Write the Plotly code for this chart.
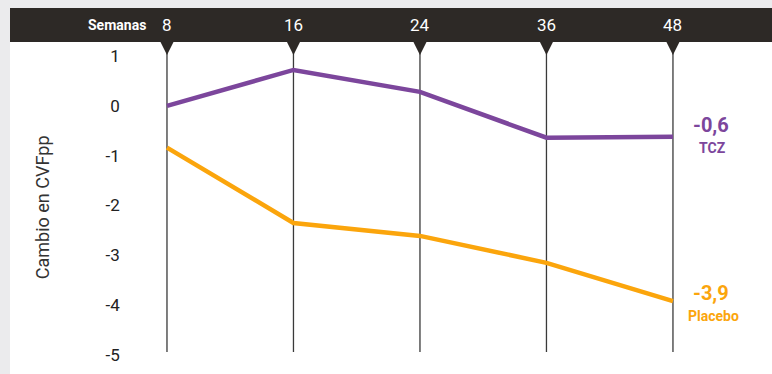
import plotly.graph_objects as go

weeks = ["8", "16", "24", "36", "48"]
tcz = [0.0, 0.72, 0.28, -0.64, -0.62]
placebo = [-0.84, -2.35, -2.61, -3.15, -3.92]
y_ticks = [1, 0, -1, -2, -3, -4, -5]
tcz_label = "-0,6"
placebo_label = "-3,9"

PURPLE = "#7c469c"
ORANGE = "#fba50c"
DARK = "#2d2926"

W, H = 772, 374
L, T = 10, 8
x_range = [-1.241, 4.783]
y_range = [-5.381, 1.963]
header_bottom = 1.281
header_mid = 1.62
line_bottom = -4.94

fig = go.Figure()
fig.add_trace(go.Scatter(x=weeks, y=tcz, mode="lines", line=dict(color=PURPLE, width=4.5),
                         hoverinfo="skip", showlegend=False))
fig.add_trace(go.Scatter(x=weeks, y=placebo, mode="lines", line=dict(color=ORANGE, width=4.5),
                         hoverinfo="skip", showlegend=False))

shapes = [
    dict(type="rect", xref="paper", yref="y", x0=0, x1=1, y0=header_bottom, y1=y_range[1] + 1,
         fillcolor=DARK, line=dict(width=0), layer="below"),
]
for i, w in enumerate(weeks):
    shapes.append(dict(type="line", xref="x", yref="y", x0=i, x1=i, y0=header_bottom, y1=line_bottom,
                       line=dict(color="#3a3a3a", width=1.3), layer="below"))
    shapes.append(dict(type="path", xref="x", yref="y", xsizemode="pixel", ysizemode="pixel",
                       xanchor=i, yanchor=header_bottom,
                       path="M-6.5,0 L6.5,0 L0,-13 Z", fillcolor=DARK, line=dict(width=0)))

annotations = []
for i, w in enumerate(weeks):
    annotations.append(dict(x=i, y=header_mid, xref="x", yref="y", text=w, showarrow=False,
                            xanchor="center", yanchor="middle",
                            font=dict(family="Roboto", size=17, color="white")))
annotations.append(dict(x=0, y=header_mid, xref="x", yref="y", text="<b>Semanas</b>",
                        showarrow=False, xanchor="right", yanchor="middle", xshift=-19,
                        font=dict(family="Roboto", size=14, color="white")))
annotations.append(dict(x=0.043, y=0.455, xref="paper", yref="paper", text="Cambio en CVFpp",
                        textangle=-90, showarrow=False, xanchor="center", yanchor="middle",
                        font=dict(family="Roboto", size=18, color="#333333")))
n = len(weeks) - 1
annotations += [
    dict(x=n, y=tcz[-1], xref="x", yref="y", text="<b>" + tcz_label + "</b>", showarrow=False,
         xanchor="center", yanchor="middle",
         xshift=38, yshift=12, font=dict(family="Roboto", size=20, color=PURPLE)),
    dict(x=n, y=tcz[-1], xref="x", yref="y", text="<b>TCZ</b>", showarrow=False,
         xanchor="center", yanchor="middle",
         xshift=40, yshift=-11, font=dict(family="Roboto", size=14, color=PURPLE)),
    dict(x=n, y=placebo[-1], xref="x", yref="y", text="<b>" + placebo_label + "</b>", showarrow=False,
         xanchor="center", yanchor="middle",
         xshift=38, yshift=8, font=dict(family="Roboto", size=20, color=ORANGE)),
    dict(x=n, y=placebo[-1], xref="x", yref="y", text="<b>Placebo</b>", showarrow=False,
         xanchor="center", yanchor="middle",
         xshift=41, yshift=-15, font=dict(family="Roboto", size=14, color=ORANGE)),
]

fig.update_layout(
    width=W, height=H,
    margin=dict(l=L, r=0, t=T, b=0),
    paper_bgcolor="#ebebed", plot_bgcolor="white",
    shapes=shapes, annotations=annotations,
    xaxis=dict(type="category", range=x_range, showticklabels=False, showgrid=False,
               zeroline=False, showline=False, ticks=""),
    yaxis=dict(range=y_range, tickvals=y_ticks, ticktext=[str(v) for v in y_ticks],
               anchor="free", position=0.144, showgrid=False, zeroline=False, showline=False,
               ticks="", tickfont=dict(family="Roboto", size=17, color="#222222")),
    font=dict(family="Roboto"),
)

fig.write_html("out.html")
